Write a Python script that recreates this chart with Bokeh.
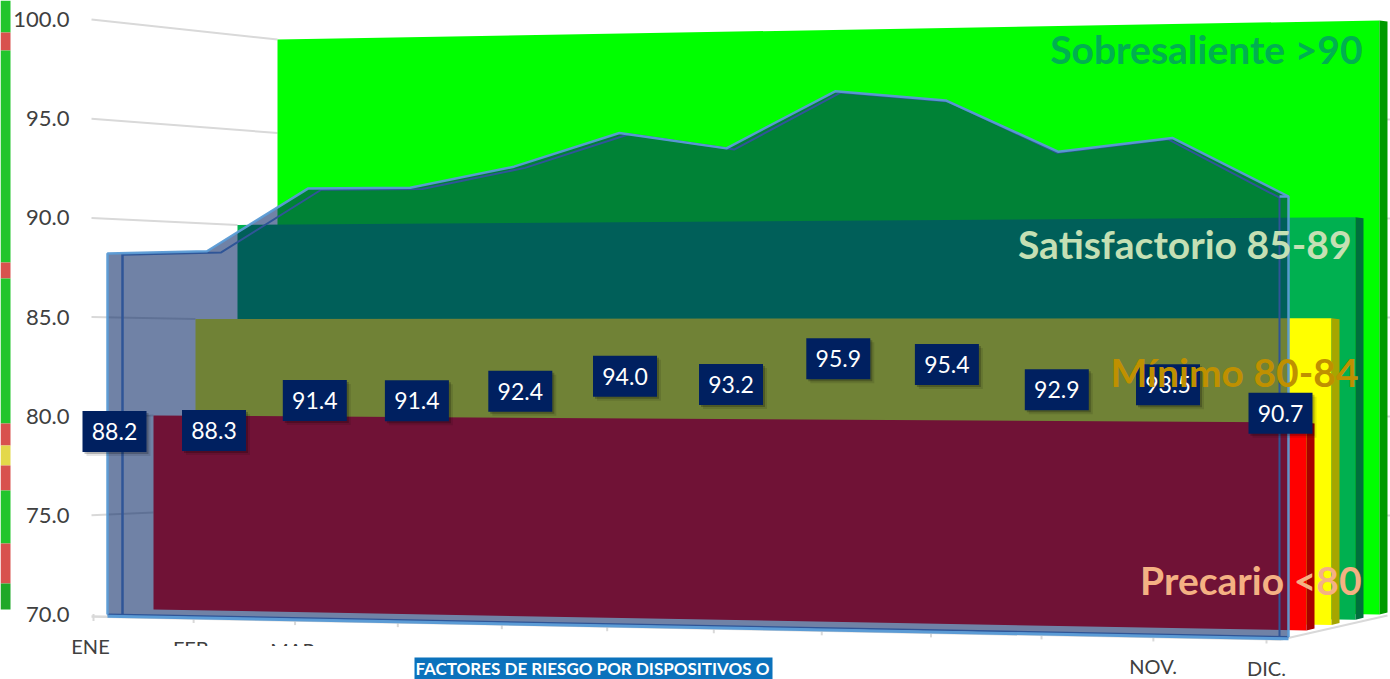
from bokeh.plotting import figure
from bokeh.models import LinearAxis, FixedTicker, NumeralTickFormatter
from bokeh.core.properties import value
from bokeh.embed import file_html
from bokeh.resources import INLINE

# ---- data -----------------------------------------------------------------
months = ["ENE", "FEB", "MAR", "ABR", "MAY", "JUN", "JUL", "AGO", "SEP", "OCT", "NOV.", "DIC."]
shown_months = ["ENE", "FEB", "MAR", "ABR", "NOV.", "DIC."]
scores = [88.2, 88.3, 91.4, 91.4, 92.4, 94.0, 93.2, 95.9, 95.4, 92.9, 93.5, 90.7]
y_ticks = [70, 75, 80, 85, 90, 95, 100]
zone_names = ["Precario <80", "Mínimo 80-84", "Satisfactorio 85-89", "Sobresaliente >90"]
zone_tops = [80, 85, 90, 100]
banner_text = "FACTORES DE RIESGO POR DISPOSITIVOS O"

# ---- style ----------------------------------------------------------------
FONT = "Lato"
zone_face = ["#FF0000", "#FFFF00", "#00B050", "#00FF00"]
zone_side = ["#A80000", "#A6A600", "#00703C", "#009A00"]
zone_text = ["#F4B183", "#BF9000", "#C5E0B4", "#00B050"]
zone_text_xy = [(1361, 579), (1358, 371), (1351, 243), (1362, 48)]
zone_left = [153, 195, 237, 277]
zone_right = [1306, 1331, 1355, 1379]
SIDE = 8
GRID = "#D9D9D9"
LIGHT = "#5B9BD5"
DARK = "#2F5597"
NAVY = "#002060"

W, H = 1390, 679


# ---- 3-D projection of the Excel chart --------------------------------------
def val(py):
    """Value-axis coordinate of a screen row."""
    return 70 + (614 - py) / 19.83


def xc(i):
    return 114 + 98.85 * i + 0.65 * i * i


def front_y(i, v):
    t = i / 11
    return (614 + 22.5 * t) - (v - 70) * (19.83 + 1.45 * t)


def wall_y(x, v):
    """Row of value v on the receding band planes."""
    if x < 700:
        t = (x - 153) / (277 - 153)
        base, scale = 609 - 9 * t, 19.4 - 0.7 * t
    else:
        t = (x - 1306) / (1379 - 1306)
        base, scale = 630 - 16 * t, 20.8 - 1.0 * t
    return base - (v - 70) * scale


p = figure(width=W, height=H, x_range=(0, W), y_range=(val(H), val(0)),
           x_axis_type=None, y_axis_type=None, toolbar_location=None,
           output_backend="svg", min_border=0, outline_line_color=None,
           background_fill_color="white", border_fill_color="white")
p.grid.visible = False

# left-edge cropped strip (0..10 px)
strip = [(0, 32, "#22C52C"), (32, 50, "#D8524E"), (50, 262, "#22C52C"), (262, 278, "#D8524E"),
         (278, 423, "#22C52C"), (423, 445, "#D8524E"), (445, 465, "#E3D84A"), (465, 490, "#D8524E"),
         (490, 543, "#22C52C"), (543, 583, "#D8524E"), (583, 609, "#1FA828")]
p.quad(left=0, right=10, top=[val(s[0]) for s in strip], bottom=[val(s[1]) for s in strip],
       fill_color=[s[2] for s in strip], line_color=None)

# gridline stubs left of the bands + floor + right stubs
end_x = [153, 153, 153, 195, 237, 277, 277]
gx0, gy0, gx1, gy1 = [], [], [], []
for v, ex in zip(y_ticks, end_x):
    if v == 70:
        continue
    gx0.append(91); gy0.append(v); gx1.append(ex); gy1.append(val(wall_y(ex, v)))
    if v < 100:
        gx0.append(1385); gy0.append(val(wall_y(1379, v))); gx1.append(W); gy1.append(val(wall_y(1379, v)))
p.segment(gx0, gy0, gx1, gy1, line_color=GRID, line_width=2)

# floor, ticks
tick_x = [xc(i) - 21 + 7 * i / 11 for i in range(12)]
floor_y = [front_y(i, 70) + 2.5 for i in range(12)]
p.line([91, 1281], [val(616), val(639)], line_color=GRID, line_width=2.5)
p.line([1281, 1387], [val(639), val(615)], line_color=GRID, line_width=2)
p.segment(tick_x, [val(y - 3) for y in floor_y], tick_x, [val(y + 4) for y in floor_y],
          line_color=GRID, line_width=2)

# month labels (the middle ones are covered by the white patch, as in the picture)
lab_x = [tick_x[months.index(m)] - 3 * (1 - months.index(m) / 11) for m in shown_months]
lab_y = [val(645 + 2.0 * months.index(m)) for m in shown_months]
p.text(lab_x, lab_y, text=shown_months, text_align="center", text_baseline="middle",
       text_font=value(FONT), text_font_size="20px", text_color="#404040")
p.quad(left=130, right=1122, top=val(645.5), bottom=val(H), fill_color="white", line_color=None)
p.quad(left=414, right=772, top=val(657), bottom=val(H), fill_color="#0B72BC", line_color=None)
p.text([415], [val(668)], text=[banner_text], text_align="left", text_baseline="middle",
       text_font=value(FONT), text_font_style="bold", text_font_size="17px", text_color="white")

# zone bands, back to front
for k in (3, 2, 1, 0):
    L, R, top = zone_left[k], zone_right[k], zone_tops[k]
    p.patch([L, R, R, L],
            [val(wall_y(L, top)), val(wall_y(R, top)), val(wall_y(R, 70)), val(wall_y(L, 70))],
            fill_color=zone_face[k], line_color=None)
    p.patch([R, R + SIDE, R + SIDE, R],
            [val(wall_y(R, top)), val(wall_y(R, top) + 1), val(wall_y(R, 70) - 2), val(wall_y(R, 70))],
            fill_color=zone_side[k], line_color=None)

# translucent area series
idx = list(range(12))
light_x = [xc(i) + (-7 + 15 * (i / 11) ** 3) for i in idx]
dark_x = [xc(i) + (8 - 9 * i / 11) for i in idx]
top_y = [val(front_y(i, v)) for i, v in zip(idx, scores)]
fl_l, fl_r = val(front_y(0, 70)), val(front_y(11, 70))
p.patch(light_x + [light_x[-1], light_x[0]], top_y + [fl_r, fl_l],
        fill_color=NAVY, fill_alpha=0.56, line_color=None)
# depth edges
p.line(dark_x + [dark_x[-1]], [y - 0.06 for y in top_y] + [fl_r], line_color=DARK, line_width=2)
p.line([dark_x[0], dark_x[0]], [top_y[0], fl_l], line_color=DARK, line_width=2.5)
p.line([light_x[0], light_x[-1]], [fl_l, fl_r], line_color=DARK, line_width=2)
p.line([light_x[0], light_x[-1]], [fl_l - 0.09, fl_r - 0.09], line_color=LIGHT, line_width=3)
p.line([light_x[0]] + light_x + [light_x[-1]], [fl_l] + top_y + [fl_r], line_color=LIGHT, line_width=2.5,
       line_alpha=0.95)
p.line([light_x[-1] - 9, light_x[-1]], [top_y[-1], top_y[-1]], line_color=LIGHT, line_width=2.5)

# value axis
ax = LinearAxis(ticker=FixedTicker(ticks=y_ticks), formatter=NumeralTickFormatter(format="0.0"),
                fixed_location=80, axis_line_color=None, major_tick_line_color=None,
                minor_tick_line_color=None, major_label_standoff=5,
                major_label_text_font=FONT, major_label_text_font_size="22px",
                major_label_text_color="#404040")
p.add_layout(ax, "left")

# data labels
box_w, box_h = 64, 41
cx = [xc(i) for i in idx]
cy = [431 - 9.75 * (v - 88.2) + 6 * (i / 11) ** 2 for i, v in zip(idx, scores)]
for off, alpha in ((4, 0.10), (2, 0.22)):
    p.quad(left=[x - box_w / 2 + off for x in cx], right=[x + box_w / 2 + off for x in cx],
           top=[val(y - box_h / 2 + off) for y in cy], bottom=[val(y + box_h / 2 + off) for y in cy],
           fill_color="black", fill_alpha=alpha, line_color=None)
p.quad(left=[x - box_w / 2 for x in cx], right=[x + box_w / 2 for x in cx],
       top=[val(y - box_h / 2) for y in cy], bottom=[val(y + box_h / 2) for y in cy],
       fill_color=NAVY, line_color=None)
p.text(cx, [val(y) for y in cy], text=[f"{v:.1f}" for v in scores], text_align="center",
       text_baseline="middle", text_font=value(FONT), text_font_size="23px", text_color="white")

# zone captions
p.text([c[0] for c in zone_text_xy], [val(c[1]) for c in zone_text_xy], text=zone_names,
       text_align="right", text_baseline="middle", text_font=value(FONT), text_font_style="bold",
       text_font_size="39px", text_color=zone_text)

open("out.html", "w").write(file_html(p, INLINE))
